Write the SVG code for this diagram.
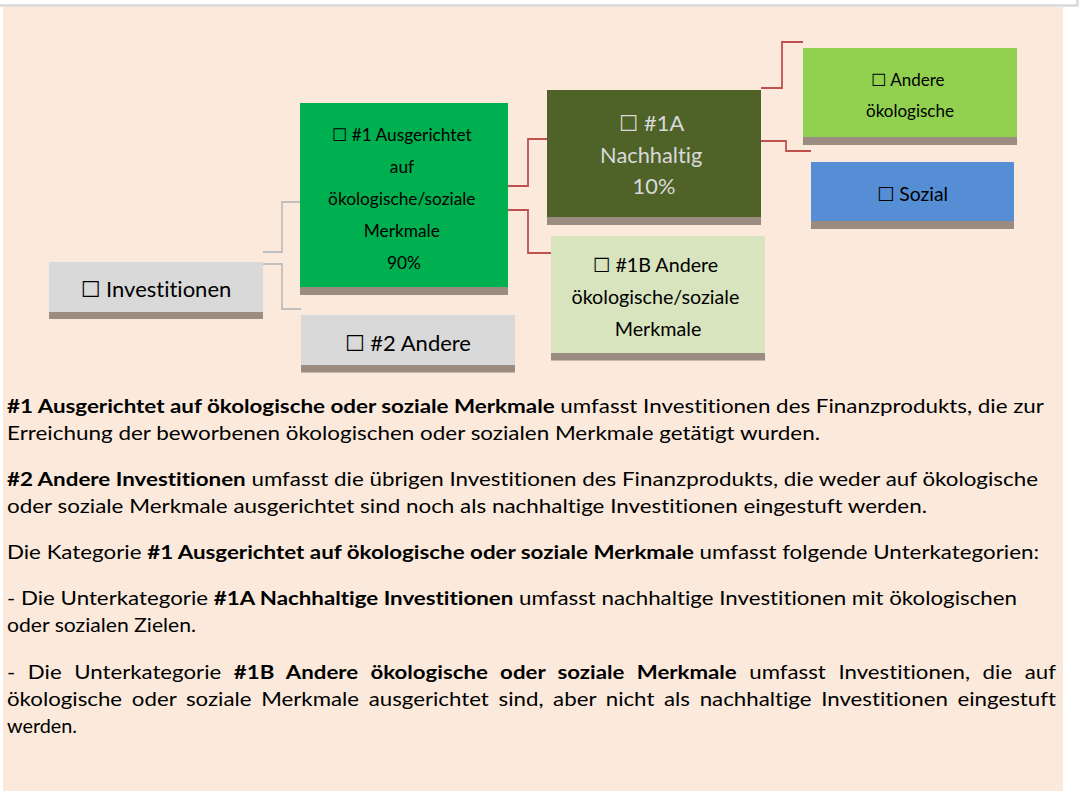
<svg xmlns="http://www.w3.org/2000/svg" width="1080" height="791" viewBox="0 0 1080 791">
<style>
  .bg { fill: #fbe9db; }
  .bar { fill: #9a8c81; }
  text { font-variant-ligatures: none; font-feature-settings: "liga" 0, "clig" 0, "dlig" 0; }
  .t { font-family: Lato, "DejaVu Sans", sans-serif; fill: #000000; text-anchor: middle; }
  .p { font-family: Lato, "DejaVu Sans", sans-serif; fill: #000000; font-size: 19px; }
  .b { font-weight: bold; }
  .gray { fill: none; stroke: #bfbfbf; stroke-width: 1.8; }
  .red { fill: none; stroke: #c0504d; stroke-width: 1.8; }
</style>
<rect x="0" y="0" width="1080" height="791" fill="#ffffff"/>
<rect class="bg" x="3" y="7" width="1060" height="784"/>
<path d="M0 5.5 H1077.5 V0" fill="none" stroke="#d9d9d9" stroke-width="2.5"/>

<g id="connectors">
  <path class="gray" d="M263 252 H282 V202 H300"/>
  <path class="gray" d="M263 264 H282 V309 H301"/>
  <path class="red" d="M508 186 H528 V139 H547"/>
  <path class="red" d="M508 210 H528 V253 H551"/>
  <path class="red" d="M761 88 H782 V42 H803"/>
  <path class="red" d="M761 141 H786 V151 H811"/>
</g>

<g id="node-investitionen">
  <rect x="49" y="262" width="214" height="50" fill="#d9d9d9"/>
  <rect class="bar" x="49" y="312" width="214" height="7"/>
  <text class="t" x="156" y="297" font-size="22">☐ Investitionen</text>
</g>

<g id="node-2-andere">
  <rect x="301" y="315" width="214" height="50" fill="#d9d9d9"/>
  <rect class="bar" x="301" y="365" width="214" height="7.5"/>
  <text class="t" x="408" y="351" font-size="22">☐ #2 Andere</text>
</g>

<g id="node-1-ausgerichtet">
  <rect x="300" y="103" width="208" height="184" fill="#00b050"/>
  <rect class="bar" x="300" y="287" width="208" height="8"/>
  <text class="t" font-size="17.3">
    <tspan x="404" y="141">☐ #1 Ausgerichtet</tspan>
    <tspan x="404" y="173.3">auf</tspan>
    <tspan x="404" y="205">ökologische/soziale</tspan>
    <tspan x="404" y="236.7">Merkmale</tspan>
    <tspan x="404" y="268.7">90%</tspan>
  </text>
</g>

<g id="node-1a-nachhaltig">
  <rect x="547" y="90" width="214" height="127" fill="#4f6228"/>
  <rect class="bar" x="547" y="217" width="214" height="8"/>
  <text class="t" font-size="21.8" style="fill:#d9d9d9">
    <tspan x="654" y="131">☐ #1A</tspan>
    <tspan x="654" y="162.7">Nachhaltig</tspan>
    <tspan x="654" y="194.3">10%</tspan>
  </text>
</g>

<g id="node-1b-andere">
  <rect x="551" y="236" width="214" height="117" fill="#d7e4bd"/>
  <rect class="bar" x="551" y="353" width="214" height="7.5"/>
  <text class="t" font-size="19.7">
    <tspan x="658" y="272.3">☐ #1B Andere</tspan>
    <tspan x="658" y="304">ökologische/soziale</tspan>
    <tspan x="658" y="335.7">Merkmale</tspan>
  </text>
</g>

<g id="node-andere-oekologische">
  <rect x="803" y="48" width="214" height="89" fill="#92d050"/>
  <rect class="bar" x="803" y="137" width="214" height="8"/>
  <text class="t" font-size="17">
    <tspan x="910" y="85.7">☐ Andere</tspan>
    <tspan x="910" y="117.3">ökologische</tspan>
  </text>
</g>

<g id="node-sozial">
  <rect x="811" y="162" width="203" height="59" fill="#558ed5"/>
  <rect class="bar" x="811" y="221" width="203" height="8"/>
  <text class="t" x="912.5" y="201" font-size="19.4">☐ Sozial</text>
</g>

<g id="legend-text">
  <text class="p" x="7" y="413" textLength="1037" lengthAdjust="spacingAndGlyphs"><tspan class="b">#1 Ausgerichtet auf ökologische oder soziale Merkmale</tspan> umfasst Investitionen des Finanzprodukts, die zur</text>
  <text class="p" x="7" y="440" textLength="813" lengthAdjust="spacingAndGlyphs">Erreichung der beworbenen ökologischen oder sozialen Merkmale getätigt wurden.</text>
  <text class="p" x="7" y="486" textLength="1031" lengthAdjust="spacingAndGlyphs"><tspan class="b">#2 Andere Investitionen</tspan> umfasst die übrigen Investitionen des Finanzprodukts, die weder auf ökologische</text>
  <text class="p" x="7" y="513" textLength="920" lengthAdjust="spacingAndGlyphs">oder soziale Merkmale ausgerichtet sind noch als nachhaltige Investitionen eingestuft werden.</text>
  <text class="p" x="7" y="559" textLength="1032" lengthAdjust="spacingAndGlyphs">Die Kategorie <tspan class="b">#1 Ausgerichtet auf ökologische oder soziale Merkmale</tspan> umfasst folgende Unterkategorien:</text>
  <text class="p" x="7" y="605" textLength="1010" lengthAdjust="spacingAndGlyphs">- Die Unterkategorie <tspan class="b">#1A Nachhaltige Investitionen</tspan> umfasst nachhaltige Investitionen mit ökologischen</text>
  <text class="p" x="7" y="632" textLength="189" lengthAdjust="spacingAndGlyphs">oder sozialen Zielen.</text>
  <text class="p" x="7" y="679" textLength="1049" lengthAdjust="spacingAndGlyphs" word-spacing="5.9">- Die Unterkategorie <tspan class="b">#1B Andere ökologische oder soziale Merkmale</tspan> umfasst Investitionen, die auf</text>
  <text class="p" x="7" y="706" textLength="1049" lengthAdjust="spacingAndGlyphs" word-spacing="3.4">ökologische oder soziale Merkmale ausgerichtet sind, aber nicht als nachhaltige Investitionen eingestuft</text>
  <text class="p" x="7" y="733" textLength="70" lengthAdjust="spacingAndGlyphs">werden.</text>
</g>
</svg>
